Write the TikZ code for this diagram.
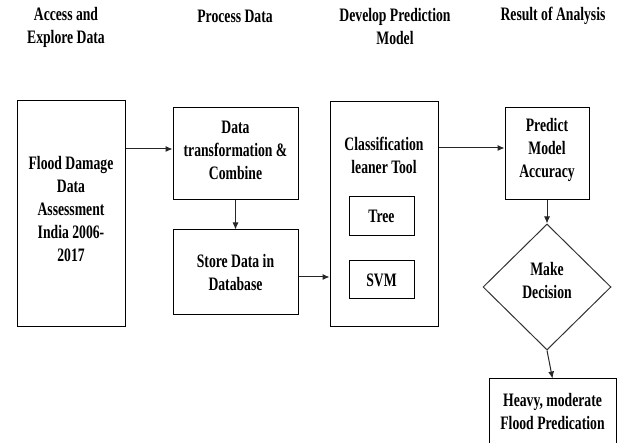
\documentclass[tikz,border=0pt]{standalone}
\usepackage{fontspec}
\setmainfont{Liberation Serif}[BoldFont={Liberation Serif Bold}, FakeStretch=0.72, BoldFeatures={FakeStretch=0.72}]
\usetikzlibrary{shapes.geometric,arrows.meta}
\tikzset{
  lbl/.style={font=\fontsize{19}{23}\selectfont\bfseries, align=center, inner sep=0pt},
  box/.style={draw=black, line width=1pt, lbl},
  arr/.style={draw=black!85, line width=1pt, -{Latex[length=7pt,width=6pt]}},
}
\begin{document}
\begin{tikzpicture}[x=1pt,y=-1pt]
\useasboundingbox (0,0) rectangle (621,443);
% headings
\node[lbl] (h1) at (66,27) {Access and\\Explore Data};
\node[lbl] (h2) at (235,16) {Process Data};
\node[lbl] (h3) at (395,27) {Develop Prediction\\Model};
\node[lbl] (h4) at (553,16) {Result of Analysis};
% boxes
\node[box, minimum width=108pt, minimum height=226pt] (flood) at (71,214) {};
\node[lbl] (floodt) at (71,209) {Flood Damage\\Data\\Assessment\\India 2006-\\2017};
\node[box, minimum width=125pt, minimum height=92pt] (trans) at (235.5,154) {};
\node[lbl] (transt) at (235.5,150) {Data\\transformation \&\\Combine};
\node[box, minimum width=125pt, minimum height=85pt] (store) at (235.5,272.5) {Store Data in\\Database};
\node[box, minimum width=108pt, minimum height=225pt] (class) at (384,214.5) {};
\node[lbl] (classt) at (384,155) {Classification\\leaner Tool};
\node[box, minimum width=65pt, minimum height=39pt] (tree) at (381.5,216.5) {Tree};
\node[box, minimum width=65pt, minimum height=38pt] (svm) at (381.5,280) {SVM};
\node[box, minimum width=84pt, minimum height=92pt] (pred) at (547,154) {};
\node[lbl] (predt) at (547,150) {Predict\\Model\\Accuracy};
\node[draw=black!80, line width=1pt, diamond, minimum width=128pt, minimum height=126pt, inner sep=0pt] (dia) at (547,287) {};
\node[lbl] (diat) at (547,281) {Make\\Decision};
\node[box, minimum width=127pt, minimum height=90pt] (heavy) at (552.5,424) {};
\node[lbl] (heavyt) at (552.5,411.5) {Heavy, moderate\\Flood Predication};
% connector heights
\coordinate (y1) at (0,149);
\coordinate (y2) at (0,277);
\coordinate (y3) at (0,148);
% connectors
\draw[arr] (flood.east |- y1) -- (trans.west |- y1);
\draw[arr] (trans.south) -- (store.north);
\draw[arr] (store.east |- y2) -- (class.west |- y2);
\draw[arr] (class.east |- y3) -- (pred.west |- y3);
\draw[arr] (pred.south) -- (dia.north);
\draw[arr] (dia.south) -- (heavy.north);
\end{tikzpicture}
\end{document}
